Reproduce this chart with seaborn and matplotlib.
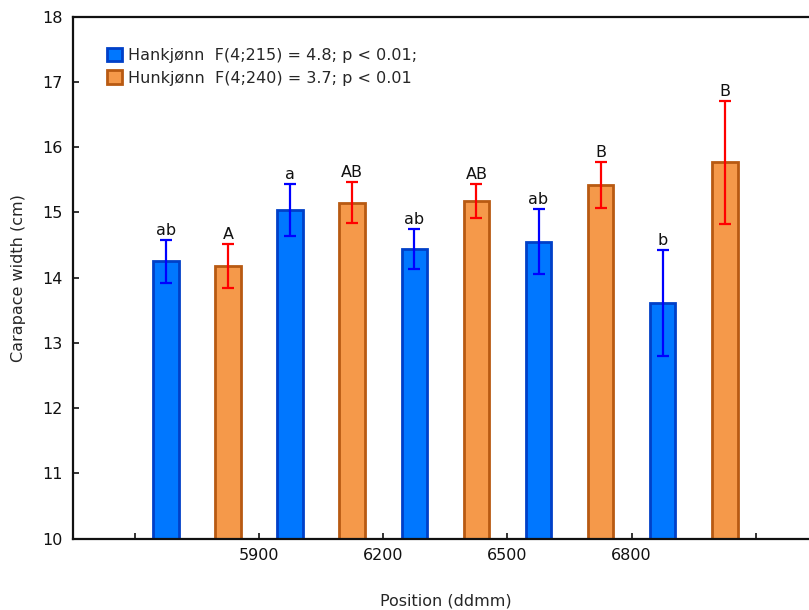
import matplotlib
matplotlib.use("Agg")
import matplotlib.pyplot as plt
from matplotlib.patches import Patch
import seaborn as sns
import pandas as pd
import numpy as np

# ---- data ----
groups = ["G1", "G2", "G3", "G4", "G5"]
sexes = ["Hankjønn", "Hunkjønn"]
male_mean = [14.25, 15.04, 14.44, 14.55, 13.61]
male_err = [0.33, 0.40, 0.30, 0.50, 0.81]
female_mean = [14.18, 15.15, 15.17, 15.42, 15.77]
female_err = [0.34, 0.31, 0.26, 0.35, 0.94]
male_letters = ["ab", "a", "ab", "ab", "b"]
female_letters = ["A", "AB", "AB", "B", "B"]
tick_labels = ["", "5900", "6200", "6500", "6800", ""]
legend_labels = ["Hankjønn  F(4;215) = 4.8; p < 0.01;",
                 "Hunkjønn  F(4;240) = 3.7; p < 0.01"]

df = pd.DataFrame({
    "group": groups * 2,
    "sex": [sexes[0]] * 5 + [sexes[1]] * 5,
    "value": male_mean + female_mean,
})

sns.set_style("ticks")
plt.rcParams["font.family"] = ["DejaVu Sans"]

fill = {sexes[0]: "#0077FF", sexes[1]: "#F5994A"}
edge = {sexes[0]: "#0040C8", sexes[1]: "#B85A12"}
errc = {sexes[0]: "#0000FF", sexes[1]: "#FF0000"}

fig = plt.figure(figsize=(8.09, 6.10), dpi=100)
ax = fig.add_axes([72.7 / 809, (610 - 538.7) / 610, (818 - 72.7) / 809, (538.7 - 16.7) / 610])

sns.barplot(data=df, x="group", y="value", hue="sex", order=groups, hue_order=sexes,
            palette=fill, saturation=1, width=1.0, gap=0.59, errorbar=None, ax=ax,
            legend=False, linewidth=2)

# recolor edges, add error bars and letters
conts = list(ax.containers)
errs = [male_err, female_err]
means = [male_mean, female_mean]
letters = [male_letters, female_letters]
for si, cont in enumerate(conts):
    s = sexes[si]
    xs = []
    for p in cont.patches:
        p.set_edgecolor(edge[s])
        p.set_linewidth(2)
        xs.append(p.get_x() + p.get_width() / 2)
    ax.errorbar(xs, means[si], yerr=errs[si], fmt="none", ecolor=errc[s],
                elinewidth=1.6, capsize=4.5, capthick=1.6, zorder=5)
    for x, m, e, t in zip(xs, means[si], errs[si], letters[si]):
        ax.annotate(t, (x, m + e), xytext=(0, 1.5), textcoords="offset points",
                    ha="center", va="bottom", fontsize=11.5, color="#111111")

ax.set_ylim(10, 18)
ax.set_xlim(-1.0, 5.0)
ax.set_yticks(np.arange(10, 19, 1))
ax.set_xticks(np.arange(-0.5, 5.0, 1.0))
ax.set_xticklabels(tick_labels)
ax.tick_params(axis="both", direction="in", length=4, width=1.2, labelsize=11.5,
               colors="#111111")
ax.tick_params(axis="x", pad=7)
ax.tick_params(axis="y", pad=7)
for sp in ax.spines.values():
    sp.set_visible(True)
    sp.set_linewidth(1.6)
    sp.set_color("#111111")

ax.set_xlabel("Position (ddmm)", fontsize=11.5, labelpad=22)
ax.set_ylabel("Carapace width (cm)", fontsize=11.5, labelpad=12)

handles = [Patch(facecolor=fill[s], edgecolor=edge[s], linewidth=2) for s in sexes]
ax.legend(handles, legend_labels, loc="upper left", bbox_to_anchor=(0.038, 0.952),
          frameon=False, fontsize=11.5, handlelength=0.9, handleheight=0.9,
          handletextpad=0.4, labelspacing=0.45, borderaxespad=0)

fig.savefig("out.png", dpi=100)
